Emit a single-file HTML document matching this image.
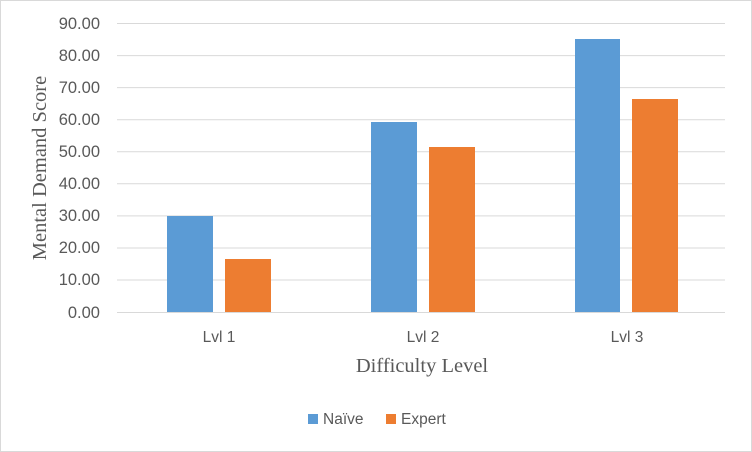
<!DOCTYPE html>
<html><head><meta charset="utf-8"><style>html,body{margin:0;padding:0;background:#fff}svg{display:block}</style></head>
<body>
<svg width="752" height="452" xmlns="http://www.w3.org/2000/svg">
<rect x="0.5" y="0.5" width="751" height="451" fill="#fff" stroke="#d9d9d9"/>
<g stroke="#d9d9d9" stroke-width="1">
<line x1="117" x2="725" y1="23.5" y2="23.5"/>
<line x1="117" x2="725" y1="55.6" y2="55.6"/>
<line x1="117" x2="725" y1="87.6" y2="87.6"/>
<line x1="117" x2="725" y1="119.7" y2="119.7"/>
<line x1="117" x2="725" y1="151.8" y2="151.8"/>
<line x1="117" x2="725" y1="183.8" y2="183.8"/>
<line x1="117" x2="725" y1="215.9" y2="215.9"/>
<line x1="117" x2="725" y1="248" y2="248"/>
<line x1="117" x2="725" y1="280" y2="280"/>
<line x1="117" x2="725" y1="312.5" y2="312.5"/>
</g>
<g font-family="Liberation Sans, sans-serif" font-size="16.5" fill="#595959" text-anchor="end">
<text x="100" y="29">90.00</text><text x="100" y="61">80.00</text><text x="100" y="93">70.00</text>
<text x="100" y="125">60.00</text><text x="100" y="157">50.00</text><text x="100" y="189">40.00</text>
<text x="100" y="221">30.00</text><text x="100" y="253">20.00</text><text x="100" y="285">10.00</text>
<text x="100" y="318">0.00</text>
</g>
<g fill="#5b9bd5">
<rect x="167" y="216" width="46" height="96"/>
<rect x="371" y="122" width="46" height="190"/>
<rect x="575" y="39" width="45" height="273"/>
</g>
<g fill="#ed7d31">
<rect x="225" y="259" width="46" height="53"/>
<rect x="429" y="147" width="46" height="165"/>
<rect x="632" y="99" width="46" height="213"/>
</g>
<g font-family="Liberation Sans, sans-serif" font-size="15.5" fill="#595959" text-anchor="middle">
<text x="219" y="342">Lvl 1</text><text x="423" y="342">Lvl 2</text><text x="627" y="342">Lvl 3</text>
</g>
<text x="422" y="372" font-family="Liberation Serif, serif" font-size="20.5" fill="#595959" text-anchor="middle">Difficulty Level</text>
<text transform="translate(46,168) rotate(-90)" font-family="Liberation Serif, serif" font-size="20.5" fill="#595959" text-anchor="middle">Mental Demand Score</text>
<rect x="308" y="414" width="10" height="10" fill="#5b9bd5"/>
<text x="323" y="424" font-family="Liberation Sans, sans-serif" font-size="15.5" fill="#595959">Naïve</text>
<rect x="386" y="414" width="10" height="10" fill="#ed7d31"/>
<text x="401" y="424" font-family="Liberation Sans, sans-serif" font-size="15.5" fill="#595959">Expert</text>
</svg>
</body></html>
